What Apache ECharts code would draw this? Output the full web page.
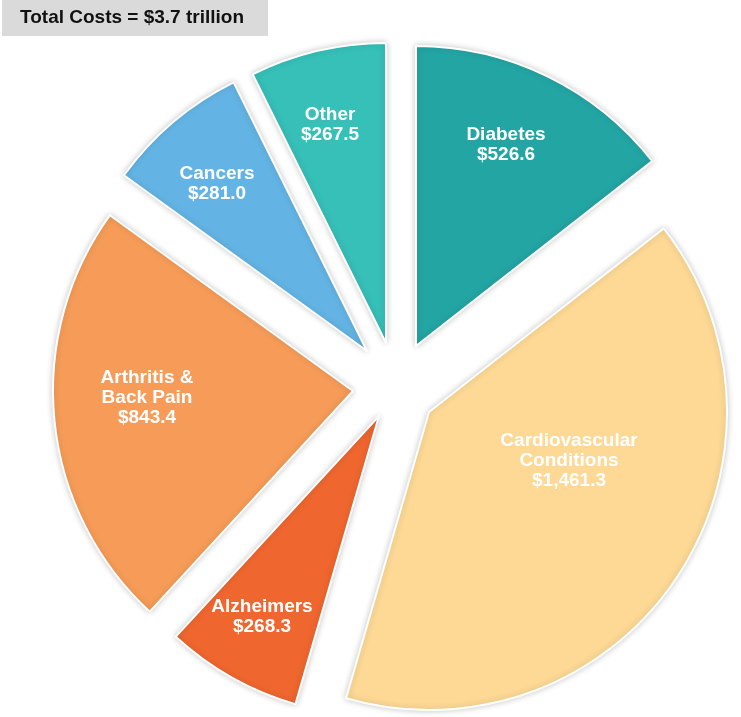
<!DOCTYPE html>
<html>
<head>
<meta charset="utf-8">
<script src="https://cdn.jsdelivr.net/npm/echarts@6/dist/echarts.min.js"></script>
<style>
html,body{margin:0;padding:0;background:#fff;}
#chart{width:741px;height:717px;}
</style>
</head>
<body>
<div id="chart"></div>
<script>
// ---- data ----
const categories = ['Diabetes', 'Cardiovascular\nConditions', 'Alzheimers', 'Arthritis &\nBack Pain', 'Cancers', 'Other'];
const values = [526.6, 1461.3, 268.3, 843.4, 281.0, 267.5];
const titleText = 'Total Costs = $3.7 trillion';

// ---- styling / layout ----
const colors = ['#23a5a4', '#fdd995', '#f0662f', '#f69c58', '#63b4e4', '#36c0b8'];
const centers = [[416, 346], [429, 412], [379, 416], [353, 391], [367, 351], [386, 343]];
const radii = [300, 298, 300, 300, 300, 300];
const labelPos = [[506, 145], [569, 461], [262, 617], [147, 398], [217, 184], [330, 125]];

function fmt(v) {
  return '$' + v.toLocaleString('en-US', { minimumFractionDigits: 1, maximumFractionDigits: 1 });
}

const series = categories.map(function (_, k) {
  return {
    type: 'pie',
    center: centers[k],
    radius: [0, radii[k]],
    startAngle: 90,
    clockwise: true,
    avoidLabelOverlap: false,
    silent: true,
    animation: false,
    emphasis: { disabled: true },
    z: 2,
    data: categories.map(function (name, i) {
      const on = i === k;
      return {
        name: name,
        value: values[i],
        itemStyle: on ? {
          color: colors[i],
          borderColor: '#ffffff',
          borderWidth: 2,
          shadowBlur: 6,
          shadowColor: 'rgba(0,0,0,0.2)'
        } : { color: 'rgba(0,0,0,0)', borderWidth: 0 },
        label: { show: on },
        labelLine: { show: false }
      };
    }),
    label: {
      position: 'inside',
      color: '#ffffff',
      fontFamily: 'Liberation Sans, Arial, sans-serif',
      fontWeight: 'bold',
      fontSize: 19,
      lineHeight: 20,
      align: 'center',
      formatter: function (p) { return p.name + '\n' + fmt(p.value); }
    },
    labelLayout: function () {
      return { x: labelPos[k][0], y: labelPos[k][1], align: 'center', verticalAlign: 'middle' };
    }
  };
});

const chart = echarts.init(document.getElementById('chart'), null, { renderer: 'canvas' });
chart.setOption({
  backgroundColor: '#ffffff',
  animation: false,
  title: {
    text: titleText,
    left: 2,
    top: 0,
    backgroundColor: '#dadada',
    padding: [7, 24, 7, 18],
    textStyle: {
      fontFamily: 'Liberation Sans, Arial, sans-serif',
      fontWeight: 'bold',
      fontSize: 19,
      lineHeight: 22,
      color: '#111111'
    }
  },
  series: series
});
</script>
</body>
</html>
